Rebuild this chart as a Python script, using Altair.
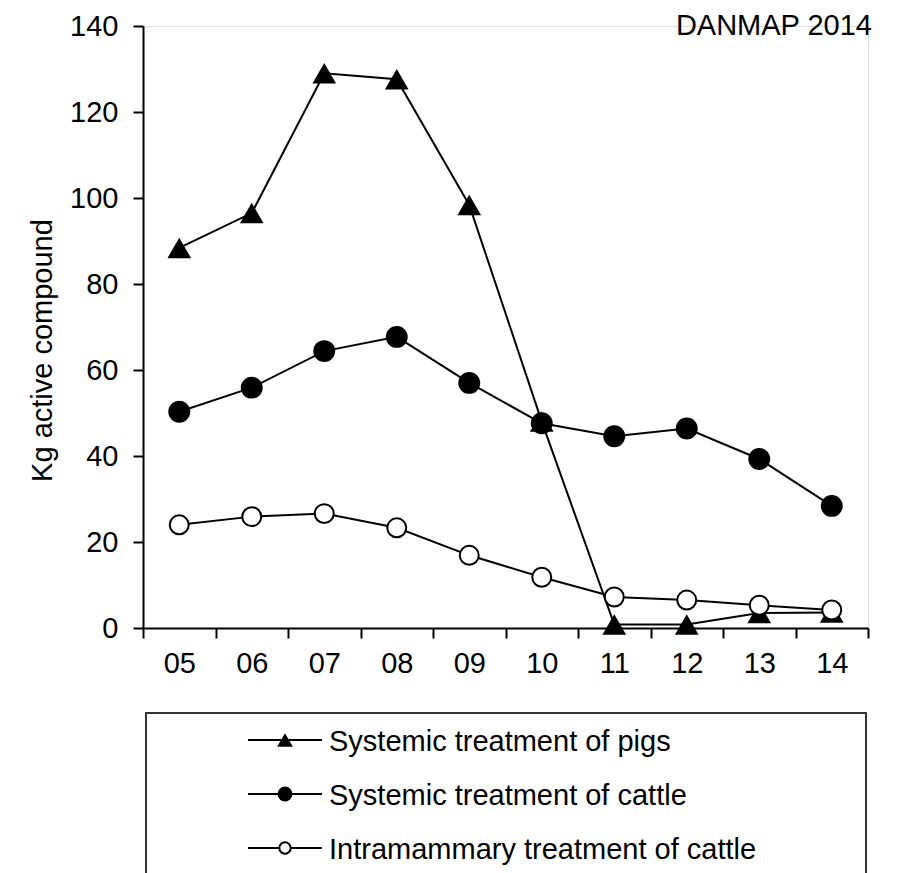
import altair as alt
import pandas as pd

years = ["05", "06", "07", "08", "09", "10", "11", "12", "13", "14"]
pigs = [88.4, 96.5, 129.0, 127.6, 98.4, 48.0, 0.8, 0.8, 3.5, 3.6]
cattle = [50.3, 55.9, 64.4, 67.7, 57.0, 47.6, 44.6, 46.4, 39.3, 28.4]
intramammary = [24.0, 25.9, 26.6, 23.3, 16.9, 11.8, 7.2, 6.5, 5.3, 4.2]
series_names = [
    "Systemic treatment of pigs",
    "Systemic treatment of cattle",
    "Intramammary treatment of cattle",
]
y_ticks = [0, 20, 40, 60, 80, 100, 120, 140]
y_title = "Kg active compound"
note = "DANMAP 2014"

FONT = "Liberation Sans"
FS = 29

rows = []
for name, vals in zip(series_names, [pigs, cattle, intramammary]):
    for yr, v in zip(years, vals):
        rows.append({"year": yr, "value": v, "series": name})
df = pd.DataFrame(rows)
leg_df = pd.DataFrame({"series": series_names})

x_enc = alt.X(
    "year:O",
    sort=years,
    scale=alt.Scale(type="band", paddingInner=0, paddingOuter=0),
    axis=alt.Axis(
        title=None, labelAngle=0, tickBand="extent", tickSize=10, tickWidth=2,
        tickColor="black", domainColor="black", domainWidth=2,
        labelFont=FONT, labelFontSize=FS, labelColor="black", labelPadding=11,
    ),
)
y_enc = alt.Y(
    "value:Q",
    scale=alt.Scale(domain=[0, 140], nice=False, zero=True),
    axis=alt.Axis(
        values=y_ticks, grid=False, tickSize=10, tickWidth=2, tickColor="black",
        domainColor="black", domainWidth=2, labelFont=FONT, labelFontSize=FS,
        labelColor="black", labelPadding=15, title=y_title, titleFont=FONT,
        titleFontSize=FS, titleFontWeight="normal", titleColor="black",
        titleX=-86, titleY=324, titleAngle=270, titleBaseline="bottom",
        titleAlign="center",
    ),
)

base = alt.Chart(df)


def series_layers(name, point_kwargs):
    b = base.transform_filter(alt.datum.series == name)
    line = b.mark_line(color="black", strokeWidth=2).encode(x=x_enc, y=y_enc)
    pts = b.mark_point(**point_kwargs).encode(x=x_enc, y=y_enc)
    return [line, pts]


main_layers = []
main_layers += series_layers(series_names[0], dict(shape="triangle-up", filled=True, color="black", size=560, opacity=1))
main_layers += series_layers(series_names[1], dict(shape="circle", filled=True, color="black", size=480, opacity=1))
main_layers += series_layers(series_names[2], dict(shape="circle", filled=True, fill="white", stroke="black", strokeWidth=2, size=360, opacity=1))

note_layer = alt.Chart(pd.DataFrame({"t": [note]})).mark_text(
    font=FONT, fontSize=FS, color="black", align="right", baseline="alphabetic"
).encode(text="t:N", x=alt.value(729), y=alt.value(9))

main = alt.layer(*main_layers, note_layer)

# legend
box = alt.Chart(pd.DataFrame({"a": [0]})).mark_rect(
    fill="white", stroke="#333333", strokeWidth=2
).encode(x=alt.value(3), x2=alt.value(723), y=alt.value(687), y2=alt.value(900))

ly = alt.Y("series:N", sort=series_names,
           scale=alt.Scale(type="point", domain=series_names, range=[714, 822], padding=0),
           axis=None)
lb = alt.Chart(leg_df)
leg_rule = lb.mark_rule(color="black", strokeWidth=2).encode(
    x=alt.value(105), x2=alt.value(179), y=ly)
leg_tri = lb.transform_filter(alt.datum.series == series_names[0]).mark_point(
    shape="triangle-up", filled=True, color="black", size=250, opacity=1).encode(x=alt.value(142), y=ly)
leg_dot = lb.transform_filter(alt.datum.series == series_names[1]).mark_point(
    shape="circle", filled=True, color="black", size=220, opacity=1).encode(x=alt.value(142), y=ly)
leg_open = lb.transform_filter(alt.datum.series == series_names[2]).mark_point(
    shape="circle", filled=True, fill="white", stroke="black", strokeWidth=2, size=130, opacity=1).encode(x=alt.value(142), y=ly)
leg_text = lb.mark_text(font=FONT, fontSize=FS, color="black", align="left", baseline="middle", dy=2).encode(
    x=alt.value(186), y=ly, text="series:N")

legend = alt.layer(box, leg_rule, leg_tri, leg_dot, leg_open, leg_text)

chart = alt.layer(main, legend).resolve_scale(y="independent").properties(
    width=725, height=602,
    padding={"left": 20, "top": 4, "right": 5, "bottom": 5},
).configure_view(stroke=None).configure(background="white")

chart.save("out.html", embed_options={"renderer": "svg", "actions": False})
